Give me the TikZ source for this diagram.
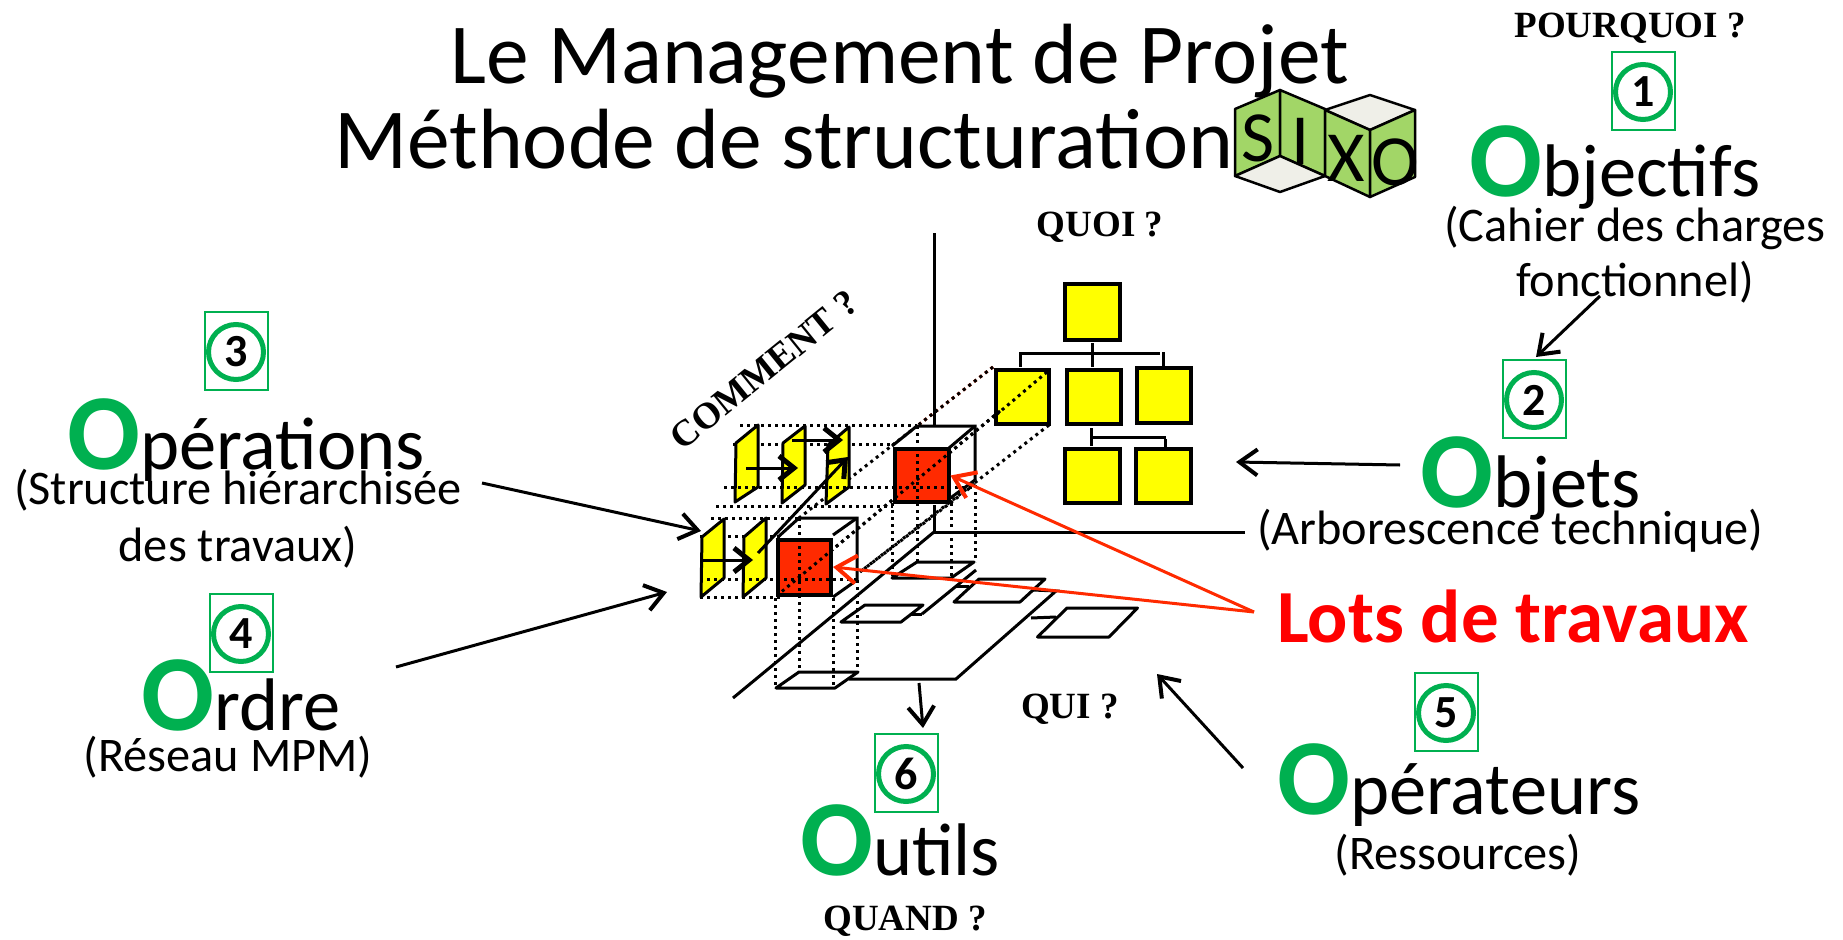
\documentclass[tikz,border=0pt]{standalone}
\usepackage{fontspec}
\setmainfont{Carlito}
\newfontfamily\tmsfont{Liberation Serif}
\usetikzlibrary{arrows.meta}
\definecolor{ogreen}{HTML}{00B050}
\definecolor{cubegreen}{HTML}{A2D667}
\definecolor{cubelight}{HTML}{EFEFE8}
\definecolor{redsq}{HTML}{FF2A00}
\definecolor{yel}{HTML}{FFFF00}
\newcommand{\fsz}[1]{\fontsize{#1}{#1}\selectfont}
\tikzset{
  base/.style={line width=3pt,draw=black},
  dots/.style={line width=3pt,draw=black,dash pattern=on 3pt off 4pt},
  ybox/.style={line width=3.5pt,draw=black,fill=yel},
  rbox/.style={line width=4pt,draw=black,fill=redsq},
  sheet/.style={line width=3pt,draw=black,fill=yel,line join=round},
  plane/.style={line width=3pt,draw=black,line join=round},
  smallarrow/.style={line width=3pt,-{Straight Barb[length=15pt,width=24pt,line width=5pt]}},
  longarrow/.style={line width=3pt,-{Straight Barb[length=18pt,width=26pt,line width=4pt]}},
  redarrow/.style={line width=3pt,draw=redsq,-{Straight Barb[length=20pt,width=28pt,line width=4pt]}},
  title/.style={anchor=base west,inner sep=0pt,font=\fsz{85.5}},
  onom/.style={anchor=base west,inner sep=0pt,font=\fsz{74.5}},
  sub/.style={anchor=base,inner sep=0pt,font=\fsz{48.3},align=center},
  ques/.style={anchor=base,inner sep=0pt,font=\tmsfont\bfseries\fsz{37}},
  cubeg/.style={line width=2.5pt,draw=black,fill=cubegreen,line join=round},
  cubel/.style={line width=2.5pt,draw=black,fill=cubelight,line join=round},
  numrect/.style={draw=ogreen,line width=1.5pt,minimum width=63pt,minimum height=78pt,inner sep=0pt},
  numcirc/.style={draw=ogreen,line width=5pt,circle,minimum size=55pt,inner sep=0pt,font=\bfseries\fsz{46}},
  cubeletter/.style={inner sep=0pt,font=\fsz{72}},
}
\newcommand{\numbox}[3]{\node[numrect] (r#3) at (#1+0.5,#2-1) {}; \node[numcirc] (n#3) at (#1,#2) {#3};}
\newcommand{\bigO}[1]{{\color{ogreen}\bfseries\fsz{108}O}#1}
\begin{document}
\begin{tikzpicture}[x=1pt,y=-1pt]
\useasboundingbox (0,0) rectangle (1843,939);

% dotted guides
\draw[dots,redsq] (993,367) -- (917,426);
\draw[dots] (993,367) -- (917,426);
\draw[dots] (917,426) -- (799,518);
\draw[dots] (1000,411) -- (780,593);
\draw[dots] (1049,425) -- (860,572);

% org chart
\node[ybox,minimum width=55pt,minimum height=56pt,inner sep=0pt] (top) at (1092.5,312) {};
\node[ybox,minimum width=53pt,minimum height=54pt,inner sep=0pt] (oa) at (1022.5,397) {};
\node[ybox,minimum width=54pt,minimum height=54pt,inner sep=0pt] (ob) at (1094,397) {};
\node[ybox,minimum width=54pt,minimum height=55pt,inner sep=0pt] (oc) at (1164,395.5) {};
\node[ybox,minimum width=55pt,minimum height=54pt,inner sep=0pt] (od) at (1092.5,476) {};
\node[ybox,minimum width=55pt,minimum height=54pt,inner sep=0pt] (oe) at (1163.5,476) {};
\draw[dots] (1047,372) -- (996,415);
\draw[base] (1020,367) -- (1020,353) -- (1160,353);
\draw[base] (1092.5,343) -- (1092.5,367);
\draw[base] (1163,352) -- (1163,367);
\draw[base] (1091,428) -- (1091,446);
\draw[base] (1091,437) -- (1166,437);
\draw[base] (1165,439) -- (1165,448);

% axes and planes
\draw[base] (934,233) -- (934,427);
\draw[base] (934,505) -- (934,532) -- (1245,532);
\draw[base] (934,532) -- (733,698);
\draw[base] (849,679) -- (956,679) -- (1056,591) -- (1033,590);
\draw[base] (922,614) -- (976,570);
\draw[base] (911,614) -- (922,614);
\draw[base] (956,586) -- (969,586);
\draw[base] (1031,618) -- (1056,617);
\draw[plane] (776,688) -- (799,672) -- (858,672) -- (835,688) -- cycle;
\draw[plane] (892,578) -- (917,562) -- (974,562) -- (951,578) -- cycle;
\draw[plane] (954,602) -- (979,579) -- (1045,579) -- (1020,602) -- cycle;
\draw[plane] (841,622) -- (865,605) -- (923,605) -- (901,622) -- cycle;
\draw[plane] (1037.5,637) -- (1067,608) -- (1137.5,608) -- (1109,637) -- cycle;

% horizontal dotted rows
\draw[dots] (740,425) -- (917,425);
\draw[dots] (733,444) -- (893,444);
\draw[dots] (716,506) -- (893,506);
\draw[dots] (711,518) -- (800,518);
\draw[dots] (700,536) -- (780,536);
\draw[dots] (700,597) -- (780,597);

% yellow sheets
\draw[sheet] (736,443) -- (758,425) -- (758,487) -- (735,502) -- cycle;
\draw[sheet] (783,443) -- (805,426) -- (805,485) -- (782,503) -- cycle;
\draw[sheet] (828,445) -- (849,427) -- (849,487) -- (826,504) -- cycle;
\draw[sheet] (702,537) -- (724,519) -- (724,578) -- (701,597) -- cycle;
\draw[sheet] (744,537) -- (766,518) -- (766,578) -- (743,597) -- cycle;

% red work packages
\node[rbox,minimum width=54pt,minimum height=53pt,inner sep=0pt] (rr) at (921.5,475.5) {};
\node[rbox,minimum width=53pt,minimum height=55pt,inner sep=0pt] (rl) at (804.5,567) {};

% cube right
\draw[base] (892,446) -- (917,426) -- (975,426) -- (975,480);
\draw[base] (949,448) -- (975,426);
\draw[base] (949,499) -- (975,480);
% cube left
\draw[base] (778,537) -- (799,518) -- (857,518) -- (857,580);
\draw[base] (833,535) -- (857,518);
\draw[base] (833,597) -- (857,580);

% dots over the cubes
\draw[dots] (1000,411) -- (780,593);
\draw[dots] (975,484) -- (860,572);
\draw[dots] (724,487) -- (973,487);
\draw[dots] (700,579) -- (857,579);
\draw[dots] (917,426) -- (917,562);
\draw[dots] (975,485) -- (975,562);
\draw[dots] (892,503) -- (892,578);
\draw[dots] (951.5,503) -- (951.5,578);
\draw[dots] (775,598) -- (775,688);
\draw[dots] (799,518) -- (799,672);
\draw[dots] (833,598) -- (833,687);
\draw[dots] (857,580) -- (857,672);

% small arrows
\coordinate (a1s) at (746,468); \coordinate (a1e) at (798,468);
\coordinate (a2s) at (792,440); \coordinate (a2e) at (843,440);
\coordinate (a3s) at (758,553); \coordinate (a3e) at (848,457);
\coordinate (a4s) at (702,560); \coordinate (a4e) at (753,560);
\draw[smallarrow] (a1s) -- (a1e);
\draw[smallarrow] (a2s) -- (a2e);
\draw[smallarrow] (a3s) -- (a3e);
\draw[smallarrow] (a4s) -- (a4e);

% texts
\node[onom] (objectifs) at (1469,196) {\bigO{bjectifs}};
\node[sub] (cahier) at (1635,241) {(Cahier des charges};
\node[sub] (fonct) at (1635,296) {fonctionnel)};
\node[onom] (objets) at (1420,507) {\bigO{bjets}};
\node[sub] (arbo) at (1510,544) {(Arborescence technique)};
\node[anchor=base,inner sep=0pt,font=\bfseries\fsz{75},text=red] (lots) at (1513,642) {Lots de travaux};
\node[onom] (operations) at (67,469) {\bigO{pérations}};
\node[sub] (struct) at (238,504) {(Structure hiérarchisée};
\node[sub] (destr) at (238,561) {des travaux)};
\node[onom] (ordre) at (141,730) {\bigO{rdre}};
\node[sub] (mpm) at (228,771) {(Réseau MPM)};
\node[onom] (operateurs) at (1277,814) {\bigO{pérateurs}};
\node[sub] (ress) at (1458,869) {(Ressources)};
\node[onom] (outils) at (800,875) {\bigO{utils}};

\node[ques] (pq) at (1630,38) {POURQUOI ?};
\node[ques] (quoi) at (1100,236) {QUOI ?};
\node[ques] (qui) at (1070,718) {QUI ?};
\node[ques] (quand) at (905,930) {QUAND ?};
\node[inner sep=0pt,font=\tmsfont\bfseries\fsz{37},rotate=39] (comment) at (764,370) {COMMENT ?};

\numbox{1643}{92}{1}
\numbox{1534}{400}{2}
\numbox{236}{352}{3}
\numbox{241}{634}{4}
\numbox{1446}{713}{5}
\numbox{906}{774}{6}

% SIXO cubes
\draw[cubeg] (1235,109) -- (1280,90) -- (1280,156) -- (1235,176) -- cycle;
\draw[cubeg] (1280,90) -- (1325,109) -- (1325,176) -- (1280,156) -- cycle;
\draw[cubel] (1235,176) -- (1280,156) -- (1325,176) -- (1280,192) -- cycle;
\draw[cubel] (1325,110) -- (1370,95) -- (1415,110) -- (1370,130) -- cycle;
\draw[cubeg] (1325,110) -- (1370,130) -- (1370,197) -- (1325,176) -- cycle;
\draw[cubeg] (1370,130) -- (1415,110) -- (1415,177) -- (1370,197) -- cycle;
\node[cubeletter] (ls) at (1258,138) {S};
\node[cubeletter] (li) at (1301,141) {I};
\node[cubeletter] (lx) at (1346,158) {X};
\node[cubeletter] (lo) at (1395,162) {O};
\node[title] (t2) at (334,168) {Méthode de structuration};
\node[title] (t1) at (450,84) {Le Management de Projet};

% long arrows
\coordinate (la1) at (1600,296); \coordinate (la1e) at (1536,357);
\coordinate (la2) at (1400,465); \coordinate (la2e) at (1236,462);
\coordinate (la3) at (482,483); \coordinate (la3e) at (701,531);
\coordinate (la4) at (396,667); \coordinate (la4e) at (667,592);
\coordinate (la5) at (1243,768); \coordinate (la5e) at (1157,674);
\coordinate (la6) at (919,683); \coordinate (la6e) at (923,728);
\coordinate (lotsfrom) at (1254,612);
\draw[longarrow] (la1) -- (la1e);
\draw[longarrow] (la2) -- (la2e);
\draw[longarrow] (la3) -- (la3e);
\draw[longarrow] (la4) -- (la4e);
\draw[longarrow] (la5) -- (la5e);
\draw[longarrow] (la6) -- (la6e);
\draw[redarrow] (lotsfrom) -- (rr.east);
\draw[redarrow] (lotsfrom) -- (rl.east);
\end{tikzpicture}
\end{document}
